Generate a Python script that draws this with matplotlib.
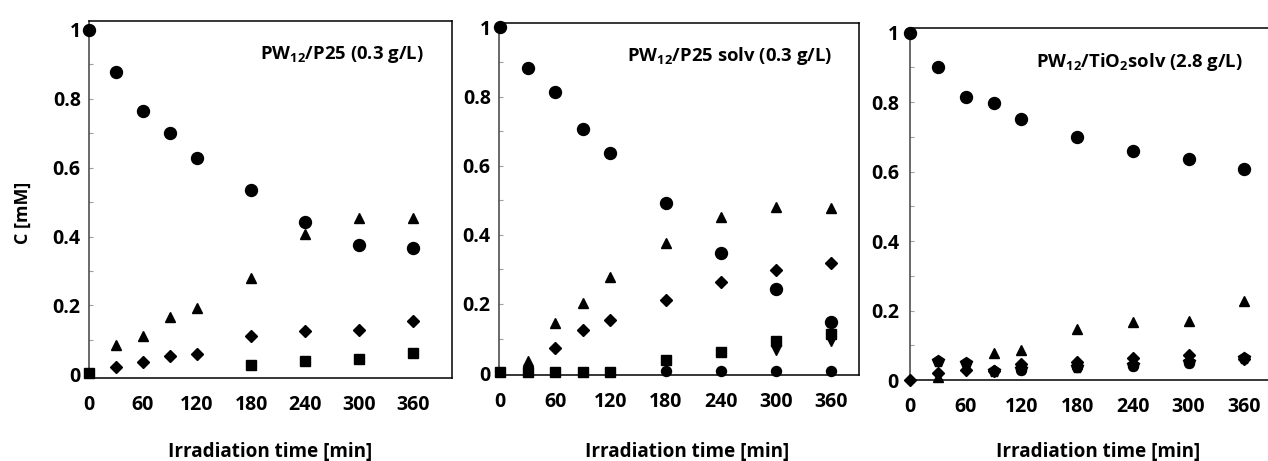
import matplotlib
matplotlib.use("Agg")
import matplotlib.pyplot as plt

plt.rcParams["font.family"] = ["Open Sans", "DejaVu Sans"]
plt.rcParams["font.weight"] = "bold"
plt.rcParams["mathtext.fontset"] = "custom"
plt.rcParams["mathtext.rm"] = "Open Sans:bold"
plt.rcParams["mathtext.it"] = "Open Sans:bold"
plt.rcParams["mathtext.bf"] = "Open Sans:bold"
plt.rcParams["mathtext.default"] = "rm"

# --- dados (C em mM, tempo em min) ---
t_all = [0, 30, 60, 90, 120, 180, 240, 300, 360]

# painel 1: PW12/P25 (0.3 g/L)
p1_circ = [1.0, 0.879, 0.766, 0.701, 0.629, 0.536, 0.443, 0.375, 0.367]
p1_tri_t = [30, 60, 90, 120, 180, 240, 300, 360]
p1_tri = [0.085, 0.111, 0.167, 0.194, 0.281, 0.408, 0.454, 0.454]
p1_dia_t = [30, 60, 90, 120, 180, 240, 300, 360]
p1_dia = [0.02, 0.037, 0.054, 0.058, 0.11, 0.127, 0.128, 0.155]
p1_sq_t = [0, 180, 240, 300, 360]
p1_sq = [0.004, 0.026, 0.039, 0.045, 0.062]

# painel 2: PW12/P25 solv (0.3 g/L)
p2_circ = [1.0, 0.883, 0.813, 0.705, 0.636, 0.492, 0.348, 0.242, 0.147]
p2_tri_t = [30, 60, 90, 120, 180, 240, 300, 360]
p2_tri = [0.035, 0.144, 0.204, 0.279, 0.376, 0.453, 0.480, 0.477]
p2_dia_t = [60, 90, 120, 180, 240, 300, 360]
p2_dia = [0.074, 0.126, 0.154, 0.212, 0.263, 0.299, 0.319]
p2_sq = [0.004, 0.002, 0.002, 0.002, 0.002, 0.037, 0.062, 0.092, 0.112]
p2_vtri_t = [300, 360]
p2_vtri = [0.067, 0.094]
p2_circ2_t = [180, 240, 300, 360]
p2_circ2 = [0.005, 0.007, 0.005, 0.007]

# painel 3: PW12/TiO2 solv (2.8 g/L)
p3_circ = [1.0, 0.90, 0.813, 0.797, 0.751, 0.699, 0.660, 0.636, 0.607]
p3_tri_t = [30, 90, 120, 180, 240, 300, 360]
p3_tri = [0.010, 0.077, 0.085, 0.147, 0.166, 0.171, 0.227]
p3_dia = [0.0, 0.019, 0.030, 0.025, 0.045, 0.053, 0.064, 0.072, 0.060]
p3_circ2_t = [120, 180, 240, 300]
p3_circ2 = [0.030, 0.036, 0.040, 0.048]
p3_pent = [None, 0.056, 0.048, 0.027, 0.032, 0.038, 0.042, 0.053, 0.062]

titles = [r"PW$_{12}$/P25 (0.3 g/L)",
          r"PW$_{12}$/P25 solv (0.3 g/L)",
          r"PW$_{12}$/TiO$_{2}$solv (2.8 g/L)"]
xticks = [0, 60, 120, 180, 240, 300, 360]
yticks = [0, 0.2, 0.4, 0.6, 0.8, 1.0]
yticklabels = ["0", "0.2", "0.4", "0.6", "0.8", "1"]

W, H = 1268, 461
fig = plt.figure(figsize=(W / 100, H / 100), dpi=100)


def px_axes(left, right, top, bottom):
    return fig.add_axes([left / W, 1 - bottom / H, (right - left) / W, (bottom - top) / H])


def style(ax, xlim, ylim, ypad):
    ax.set_xlim(*xlim)
    ax.set_ylim(*ylim)
    ax.set_xticks(xticks)
    ax.set_yticks(yticks)
    ax.set_yticklabels(yticklabels)
    ax.set_yticks([0.1, 0.3, 0.5, 0.7, 0.9], minor=True)
    ax.tick_params(axis="x", length=0, pad=12, labelsize=14)
    ax.tick_params(axis="y", which="both", direction="in", length=3, width=0.8,
                   color="#a0a0a0", pad=ypad, labelsize=14)
    for lab in ax.get_xticklabels() + ax.get_yticklabels():
        lab.set_fontweight("bold")
    for side in ["top", "right", "bottom"]:
        ax.spines[side].set_linewidth(1.1)
        ax.spines[side].set_color("black")
    ax.spines["left"].set_linewidth(1.1)
    ax.spines["left"].set_color("#404040")


def pts(ax, x, y, marker, ms):
    xx = [a for a, b in zip(x, y) if b is not None]
    yy = [b for b in y if b is not None]
    ax.plot(xx, yy, ls="none", marker=marker, ms=ms, color="black", clip_on=False, zorder=3)


# painel 1
ax1 = px_axes(89, 452, 21, 378)
style(ax1, (0, 403), (-0.0105, 1.026), 6)
pts(ax1, t_all, p1_circ, "o", 8.6)
pts(ax1, p1_tri_t, p1_tri, "^", 7.5)
pts(ax1, p1_dia_t, p1_dia, "D", 6.0)
pts(ax1, p1_sq_t, p1_sq, "s", 7.0)
ax1.text(0.923, 0.905, titles[0], transform=ax1.transAxes, ha="right", va="center",
         fontsize=13.3, fontweight="bold")

# painel 2
ax2 = px_axes(499, 859, 23, 375)
style(ax2, (-1, 390), (-0.0055, 1.013), 6)
pts(ax2, t_all, p2_circ, "o", 8.6)
pts(ax2, p2_tri_t, p2_tri, "^", 7.5)
pts(ax2, p2_dia_t, p2_dia, "D", 6.0)
pts(ax2, t_all, p2_sq, "s", 7.0)
pts(ax2, p2_vtri_t, p2_vtri, "v", 7.5)
pts(ax2, p2_circ2_t, p2_circ2, "o", 7.2)
ax2.text(0.925, 0.905, titles[1], transform=ax2.transAxes, ha="right", va="center",
         fontsize=13.3, fontweight="bold")

# painel 3 (cortado à direita na figura original)
ax3 = px_axes(910, 1300, 28, 380)
style(ax3, (0, 420), (0, 1.013), 8)
pts(ax3, t_all, p3_circ, "o", 8.6)
pts(ax3, p3_tri_t, p3_tri, "^", 7.5)
pts(ax3, t_all, p3_dia, "D", 6.0)
pts(ax3, p3_circ2_t, p3_circ2, "o", 7.2)
pts(ax3, t_all, p3_pent, "p", 8.5)
ax3.text(358, 0.915, titles[2], transform=ax3.transData,
         ha="right", va="center", fontsize=13.3, fontweight="bold")

# rótulos dos eixos
for xc in [270, 687, 1098]:
    fig.text(xc / W, 1 - 452 / H, "Irradiation time [min]", ha="center", va="center",
             fontsize=13.6, fontweight="bold")
fig.text(23 / W, 1 - 213 / H, "C [mM]", rotation=90, ha="center", va="center",
         fontsize=12.9, fontweight="bold")

fig.savefig("out.png", dpi=100)
